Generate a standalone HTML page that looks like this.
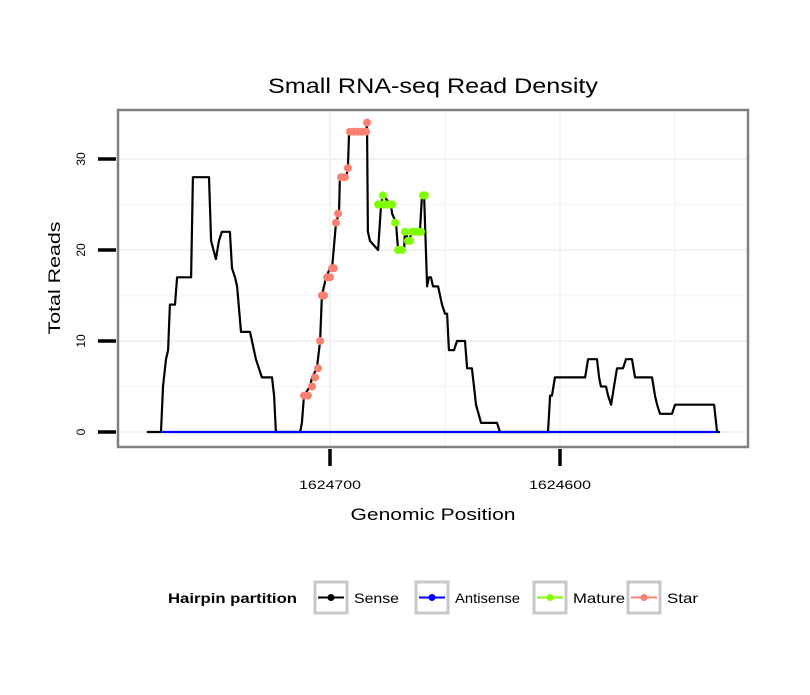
<!DOCTYPE html>
<html><head><meta charset="utf-8"><style>
body{margin:0;background:#fff;font-family:"Liberation Sans",sans-serif}
svg text{font-family:"Liberation Sans",sans-serif}
</style></head><body>
<svg width="810" height="690">
<g id="g"></g>
</svg>
<script>
const sensePos=[1624779.6,1624773.5,1624772.6,1624771.3,1624770.4,1624769.6,1624767.4,1624766.5,1624760.4,1624759.6,1624752.6,1624751.7,1624749.6,1624748.3,1624747.0,1624743.5,1624742.6,1624741.3,1624740.4,1624738.7,1624734.8,1624733.9,1624732.2,1624730.9,1624729.6,1624725.2,1624724.3,1624723.5,1624713.0,1624712.2,1624711.3,1624708.7,1624707.8,1624705.7,1624704.3,1624703.5,1624701.7,1624700.0,1624699.1,1624697.4,1624696.1,1624695.7,1624693.0,1624692.2,1624691.7,1624684.3,1624683.9,1624683.5,1624682.6,1624679.1,1624677.8,1624677.0,1624673.5,1624673.0,1624671.3,1624670.4,1624667.8,1624667.4,1624665.7,1624664.3,1624660.9,1624660.0,1624659.1,1624657.8,1624657.0,1624656.1,1624655.2,1624653.0,1624651.3,1624650.0,1624649.1,1624648.3,1624646.1,1624644.8,1624641.3,1624640.4,1624638.3,1624637.4,1624636.5,1624634.3,1624627.4,1624626.1,1624605.2,1624604.3,1624603.5,1624602.2,1624589.1,1624587.8,1624583.9,1624583.0,1624582.2,1624580.0,1624579.1,1624577.8,1624576.5,1624575.2,1624572.6,1624571.3,1624568.7,1624567.4,1624560.0,1624558.7,1624557.8,1624556.5,1624551.3,1624550.0,1624533.0,1624531.7,1624530.4];
const senseVal=[0,0,5,8,9,14,14,17,17,28,28,21,19,21,22,22,18,17,16,11,11,10,8,7,6,6,4,0,0,1,4,5,6,7,10,15,17,18,18,23,24,28,28,29,33,33,34,22,21,20,25,26,25,24,23,20,20,22,21,22,22,26,26,16,17,17,16,16,14,13,13,9,9,10,10,7,7,5,3,1,1,0,0,4,4,6,6,8,8,6,5,5,4,3,5,7,7,8,8,6,6,4,3,2,2,3,3,0,0];
const antiPos=[1624773.0,1624532.0];
const antiVal=[0,0];
const starPos=[1624711.3,1624709.6,1624707.8,1624706.5,1624705.2,1624704.3,1624703.5,1624702.6,1624701.3,1624700.0,1624699.1,1624698.3,1624697.4,1624696.5,1624695.2,1624693.5,1624692.2,1624691.3,1624689.6,1624687.8,1624686.1,1624684.3,1624683.9];
const starVal=[4,4,5,6,7,10,15,15,17,17,18,18,23,24,28,28,29,33,33,33,33,33,34];
const matPos=[1624679.1,1624677.8,1624677.0,1624676.5,1624675.2,1624673.9,1624673.0,1624671.7,1624670.4,1624668.7,1624667.4,1624666.1,1624665.2,1624664.3,1624663.0,1624661.7,1624660.4,1624659.6,1624658.7];
const matVal=[25,25,26,25,25,25,25,23,20,20,22,21,21,22,22,22,22,26,26];
const yTicks=[0,10,20,30];
const xTicks=[1624700,1624600];
const legendLabels=["Sense","Antisense","Mature","Star"];
const legendColors=["#000","#0000ff","#7fff00","#fa8072"];
const legendLens=[45,65,52,31];

const X=p=>330+(1624700-p)*2.3;
const Y=v=>432-v*9.1;
const NS="http://www.w3.org/2000/svg";
const g=document.getElementById('g');
function mk(t,a,parent){const e=document.createElementNS(NS,t);for(const k in a)e.setAttribute(k,a[k]);(parent||g).appendChild(e);return e;}

let e=mk('rect',{x:118,y:110,width:630,height:337,fill:'#fff'});


[5,15,25].forEach(v=>{mk('line',{x1:118,x2:748,y1:Y(v),y2:Y(v),stroke:'#f7f7f7','stroke-width':2});});
yTicks.forEach(v=>{let l=mk('line',{x1:118,x2:748,y1:Y(v),y2:Y(v),stroke:'#f2f2f2','stroke-width':2});});
[1624650,1624550].forEach(p=>{mk('line',{x1:X(p),x2:X(p),y1:110,y2:447,stroke:'#f7f7f7','stroke-width':2});});
xTicks.forEach(p=>{let l=mk('line',{x1:X(p),x2:X(p),y1:110,y2:447,stroke:'#f2f2f2','stroke-width':2});});

function line(P,V,c,name){let d=P.map((p,i)=>(i?'L':'M')+X(p).toFixed(1)+','+Y(V[i]).toFixed(1)).join('');let l=mk('path',{d:d,fill:'none',stroke:c,'stroke-width':2.2,'stroke-linejoin':'round'});}
line(sensePos,senseVal,'#000','sense-line');
line(antiPos,antiVal,'#0000ff','antisense-line');
starPos.forEach((p,i)=>{let c=mk('circle',{cx:X(p),cy:Y(starVal[i]),r:4,fill:'#fa8072'});});
matPos.forEach((p,i)=>{let c=mk('circle',{cx:X(p),cy:Y(matVal[i]),r:4,fill:'#7fff00'});});

e=mk('rect',{x:118,y:110,width:630,height:337,fill:'none',stroke:'#808080','stroke-width':2.5});



yTicks.forEach(v=>{let l=mk('line',{x1:98,x2:116,y1:Y(v),y2:Y(v),stroke:'#000','stroke-width':3.5});
let t=mk('text',{x:0,y:0,transform:`translate(85,${Y(v)}) rotate(-90)`,'text-anchor':'middle','font-size':12});t.textContent=v;});
xTicks.forEach(p=>{let l=mk('line',{x1:X(p),x2:X(p),y1:449,y2:466,stroke:'#000','stroke-width':3.5});
let t=mk('text',{x:X(p),y:489,'text-anchor':'middle','font-size':12,textLength:62,lengthAdjust:'spacingAndGlyphs'});t.textContent=p;});

e=mk('text',{x:433,y:93,'text-anchor':'middle','font-size':21,textLength:330,lengthAdjust:'spacingAndGlyphs'});e.textContent='Small RNA-seq Read Density';


e=mk('text',{x:433,y:520,'text-anchor':'middle','font-size':17,textLength:165,lengthAdjust:'spacingAndGlyphs'});e.textContent='Genomic Position';


e=mk('text',{x:0,y:0,transform:'translate(60,278) rotate(-90)','text-anchor':'middle','font-size':17,textLength:113,lengthAdjust:'spacingAndGlyphs'});e.textContent='Total Reads';



e=mk('text',{x:168,y:603,'font-size':14,'font-weight':'bold',textLength:129,lengthAdjust:'spacingAndGlyphs'});e.textContent='Hairpin partition';


const lx=[313,414,532,626];
legendLabels.forEach((s,i)=>{
let r=mk('rect',{x:lx[i]+2,y:582,width:32,height:31,fill:'#fff',stroke:'#c8c8c8','stroke-width':3});
mk('line',{x1:lx[i]+5,x2:lx[i]+31,y1:597.5,y2:597.5,stroke:legendColors[i],'stroke-width':2});
mk('circle',{cx:lx[i]+18,cy:597.5,r:3.5,fill:legendColors[i]});
let t=mk('text',{x:lx[i]+41,y:603,'font-size':14,textLength:legendLens[i],lengthAdjust:'spacingAndGlyphs'});t.textContent=s;
});
</script>
</body></html>
